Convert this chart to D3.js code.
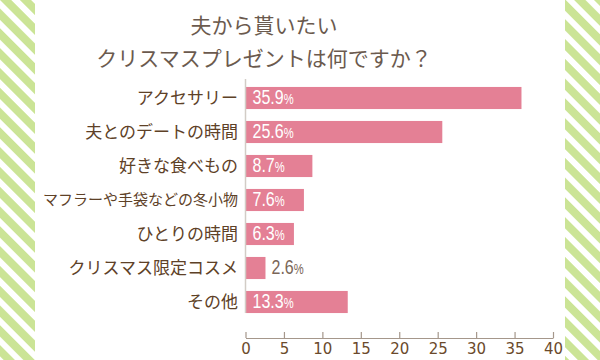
<!DOCTYPE html>
<html>
<head>
<meta charset="utf-8">
<script src="https://cdn.jsdelivr.net/npm/d3@7"></script>
<style>
  body { margin: 0; background: #fff; }
  svg { display: block; }
</style>
</head>
<body>
<div id="chart"></div>
<script>
var categories = ["アクセサリー", "夫とのデートの時間", "好きな食べもの", "マフラーや手袋などの冬小物", "ひとりの時間", "クリスマス限定コスメ", "その他"];
var values = [35.9, 25.6, 8.7, 7.6, 6.3, 2.6, 13.3];
var xTicks = [0, 5, 10, 15, 20, 25, 30, 35, 40];
var titleLines = ["夫から貰いたい", "クリスマスプレゼントは何ですか？"];

var width = 600;
var height = 360;
var jp = "'Noto Sans CJK JP', 'Noto Sans', sans-serif";
var narrow = "'Liberation Sans', Arial, sans-serif";

var svg = d3.select("#chart").append("svg")
  .attr("width", width)
  .attr("height", height);

/* striped side borders */
var defs = svg.append("defs");
var pat = defs.append("pattern")
  .attr("id", "stripes")
  .attr("patternUnits", "userSpaceOnUse")
  .attr("width", 14)
  .attr("height", 14)
  .attr("patternTransform", "rotate(-45)");
pat.append("rect").attr("width", 14).attr("height", 14).attr("fill", "#fff");
pat.append("rect").attr("x", 0).attr("width", 8).attr("height", 14).attr("fill", "#cbe496");

svg.append("rect").attr("x", 0).attr("y", 0).attr("width", 35).attr("height", height).attr("fill", "url(#stripes)");
svg.append("rect").attr("x", 565).attr("y", 0).attr("width", 35).attr("height", height).attr("fill", "url(#stripes)");

/* title */
svg.append("g").selectAll("text")
  .data(titleLines).enter()
  .append("text")
  .attr("x", 264)
  .attr("y", (d, i) => 33 + i * 33)
  .attr("text-anchor", "middle")
  .attr("font-family", jp)
  .attr("font-size", 21)
  .attr("fill", "#6b5a4e")
  .text(d => d);

/* scales */
var x = d3.scaleLinear()
  .domain([0, 40])
  .range([245.5, 553]);

var y = d3.scaleBand()
  .domain(categories)
  .range([81, 319])
  .paddingInner(0.35)
  .paddingOuter(0.175);

/* bars */
var rows = svg.append("g").selectAll("g")
  .data(categories).enter()
  .append("g");

rows.append("rect")
  .attr("x", x(0))
  .attr("y", d => y(d))
  .attr("width", (d, i) => x(values[i]) - x(0))
  .attr("height", y.bandwidth())
  .attr("fill", "#e48095");

/* baseline */
svg.append("line")
  .attr("x1", x(0)).attr("x2", x(0))
  .attr("y1", 79).attr("y2", 313)
  .attr("stroke", "#d2ccc6")
  .attr("stroke-width", 1.5);

/* category labels */
rows.append("text")
  .attr("x", 238)
  .attr("y", d => y(d) + y.bandwidth() / 2)
  .attr("dy", "0.36em")
  .attr("text-anchor", "end")
  .attr("font-family", jp)
  .attr("font-size", d => d.length > 10 ? 15 : 17)
  .attr("fill", "#5e4127")
  .text(d => d);

/* value labels, condensed like the original */
var vl = rows.append("text")
  .attr("transform", (d, i) => {
    var tx = values[i] > 5 ? x(0) + 7 : x(values[i]) + 6;
    return "translate(" + tx + "," + (y(d) + y.bandwidth() / 2) + ") scale(0.8,1)";
  })
  .attr("dy", "0.36em")
  .attr("font-family", narrow)
  .attr("fill", (d, i) => values[i] > 5 ? "#fff" : "#7a6658");
vl.append("tspan")
  .attr("font-size", 20)
  .text((d, i) => values[i].toFixed(1));
vl.append("tspan")
  .attr("font-size", 14)
  .text("%");

/* x axis */
var xAxis = d3.axisBottom(x)
  .tickValues(xTicks)
  .tickSize(-6)
  .tickSizeOuter(0)
  .tickPadding(5);

var gx = svg.append("g")
  .attr("transform", "translate(0, 338)")
  .call(xAxis);
gx.select(".domain").attr("stroke", "#a5978b").attr("stroke-width", 1.2);
gx.selectAll(".tick line").attr("stroke", "#a5978b").attr("stroke-width", 1.2);
gx.selectAll(".tick text")
  .attr("font-family", "'DejaVu Sans', sans-serif")
  .attr("font-size", 15)
  .attr("fill", "#6b4a2b");
</script>
</body>
</html>
